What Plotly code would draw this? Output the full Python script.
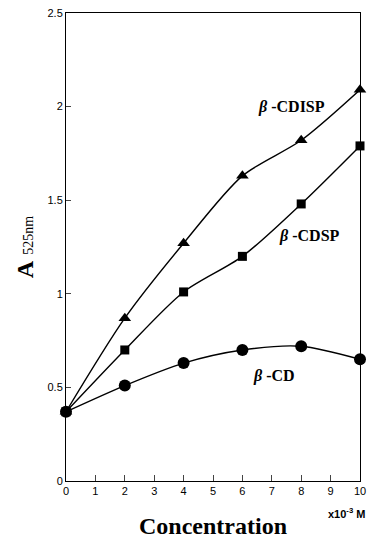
import plotly.graph_objects as go

conc = [0, 2, 4, 6, 8, 10]
cd = [0.37, 0.51, 0.63, 0.70, 0.72, 0.65]
cdsp = [0.37, 0.70, 1.01, 1.20, 1.48, 1.79]
cdisp = [0.37, 0.87, 1.27, 1.63, 1.82, 2.09]
x_ticks = list(range(0, 11))
y_ticks = [0, 0.5, 1, 1.5, 2, 2.5]
y_tick_labels = ["0", "0.5", "1", "1.5", "2", "2.5"]

fig = go.Figure()
series = [(cdisp, "triangle-up", 11), (cdsp, "square", 9), (cd, "circle", 12)]
for ys, sym, sz in series:
    fig.add_trace(go.Scatter(
        x=conc, y=ys, mode="lines+markers",
        line=dict(color="black", width=1.4, shape="spline", smoothing=0.8),
        marker=dict(symbol=sym, size=sz, color="black"),
        showlegend=False, cliponaxis=False))

fig.update_layout(
    width=373, height=538,
    margin=dict(l=66, r=7, t=13, b=57),
    paper_bgcolor="white", plot_bgcolor="white",
    font=dict(family="Liberation Sans, Arial", color="black"),
)
fig.update_xaxes(range=[0, 10], tickvals=x_ticks, ticks="inside", ticklen=6,
                 showgrid=False, zeroline=False, showline=True, linecolor="black",
                 linewidth=1, mirror=True,
                 tickfont=dict(size=11, family="Liberation Sans, Arial"))
fig.update_yaxes(range=[0, 2.5], tickvals=y_ticks, ticktext=y_tick_labels,
                 ticks="inside", ticklen=5,
                 showgrid=False, zeroline=False, showline=True, linecolor="black",
                 linewidth=1, mirror=True,
                 tickfont=dict(size=11, family="Liberation Sans, Arial"))

ser = "Liberation Serif, Times New Roman, serif"
annos = [
    dict(x=7.67, y=2.0, text="<b><i>β</i> -CDISP</b>", size=16),
    dict(x=8.27, y=1.31, text="<b><i>β</i> -CDSP</b>", size=16),
    dict(x=7.07, y=0.56, text="<b><i>β</i> -CD</b>", size=16),
]
for a in annos:
    fig.add_annotation(x=a["x"], y=a["y"], xref="x", yref="y", text=a["text"],
                       showarrow=False, font=dict(family=ser, size=a["size"], color="black"))

fig.add_annotation(x=0.5, y=-0.065, xref="paper", yref="paper", yanchor="top",
                   text="<b>Concentration</b>", showarrow=False,
                   font=dict(family=ser, size=24, color="black"))
fig.add_annotation(x=1.025, y=-0.05, xref="paper", yref="paper", yanchor="top", xanchor="right",
                   text="<b>x10<sup>-3</sup> M</b>", showarrow=False,
                   font=dict(family="Liberation Sans, Arial", size=11, color="black"))
fig.add_annotation(x=-0.19, y=0.5, xref="paper", yref="paper", textangle=-90,
                   text="<b>A</b> <span style='font-size:14px'>525nm</span>", showarrow=False,
                   font=dict(family=ser, size=24, color="black"))

fig.write_html("out.html")
